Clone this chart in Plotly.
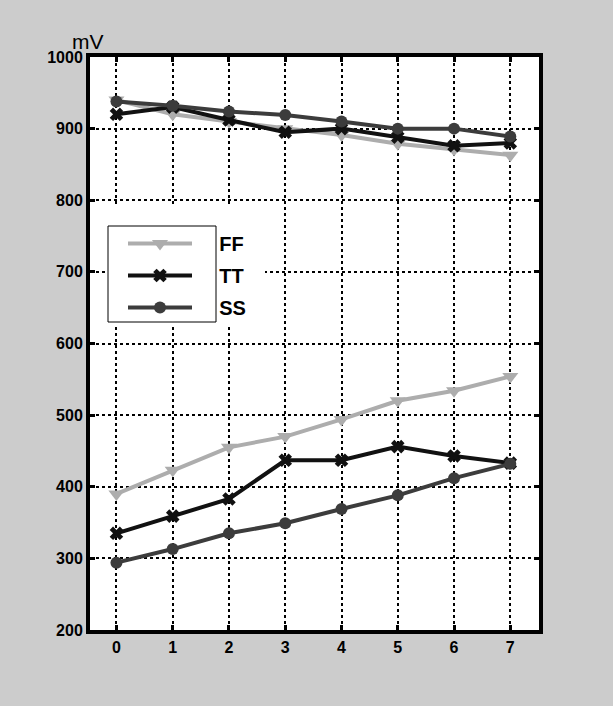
import plotly.graph_objects as go

x_vals = [0, 1, 2, 3, 4, 5, 6, 7]
ff_high = [940, 920, 910, 900, 891, 879, 871, 863]
tt_high = [920, 930, 912, 895, 900, 888, 876, 880]
ss_high = [938, 932, 924, 919, 910, 900, 900, 889]
ff_low = [390, 423, 455, 470, 494, 520, 534, 554]
tt_low = [335, 359, 383, 437, 437, 456, 443, 433]
ss_low = [294, 313, 335, 349, 369, 388, 412, 432]
y_ticks = [200, 300, 400, 500, 600, 700, 800, 900, 1000]
names = ["FF", "TT", "SS"]

series = [
    (names[0], ff_high, ff_low, "#adadad", "triangle-down", 14),
    (names[1], tt_high, tt_low, "#111111", "x", 12),
    (names[2], ss_high, ss_low, "#3c3c3c", "circle", 12),
]

NBSP = "\u00a0"
fig = go.Figure()
for name, hi, lo, col, sym, sz in series:
    for i, ys in enumerate([hi, lo]):
        fig.add_trace(go.Scatter(
            x=x_vals, y=ys, mode="lines+markers", name=NBSP * 4 + "<b>" + name + "</b>",
            legendgroup=name, showlegend=(i == 0),
            line=dict(color=col, width=4),
            marker=dict(symbol=sym, size=sz, color=col),
        ))

axis_common = dict(
    showline=True, linewidth=4, linecolor="black", mirror="ticks",
    ticks="inside", ticklen=5, tickwidth=3, tickcolor="black",
    showgrid=True, gridcolor="black", griddash="dot", gridwidth=1.5,
    zeroline=False,
    tickfont=dict(family="Liberation Sans, Arial", size=16, color="black", weight="bold"),
)

def px_x(p):
    return (p - 90) / 449

def px_y(p):
    return (630 - p) / 573

fig.update_layout(
    width=613, height=706,
    paper_bgcolor="#cccccc", plot_bgcolor="white",
    margin=dict(l=90, r=74, t=57, b=76),
    xaxis=dict(range=[-0.47, 7.51], tickvals=x_vals, **axis_common),
    yaxis=dict(range=[200, 1000], tickvals=y_ticks, **axis_common),
    showlegend=True,
    legend=dict(
        x=px_x(123), y=px_y(224), xanchor="left", yanchor="top",
        bgcolor="rgba(0,0,0,0)", borderwidth=0,
        itemwidth=64, tracegroupgap=3,
        font=dict(family="Liberation Sans, Arial", size=20, color="black"),
    ),
    shapes=[
        dict(type="rect", xref="paper", yref="paper",
             x0=px_x(108), x1=px_x(265), y0=px_y(326), y1=px_y(207),
             line=dict(width=0), fillcolor="white", layer="above"),
        dict(type="rect", xref="paper", yref="paper",
             x0=px_x(108), x1=px_x(216), y0=px_y(322), y1=px_y(226),
             line=dict(color="black", width=1), fillcolor="white", layer="above"),
    ],
    annotations=[dict(
        text="mV", xref="paper", yref="paper", x=-0.045, y=1.0,
        xanchor="left", yanchor="bottom", showarrow=False, yshift=2,
        font=dict(family="Liberation Sans, Arial", size=21, color="black"),
    )],
)

fig.write_html("out.html")
